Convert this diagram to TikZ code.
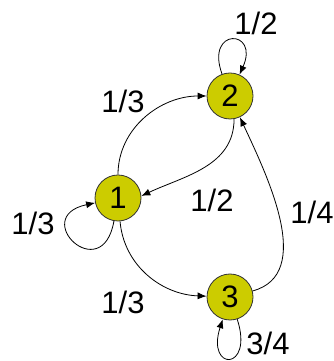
\documentclass[tikz,border=0pt]{standalone}
\usepackage{fontspec}
\setmainfont{Liberation Sans}
\usetikzlibrary{arrows.meta}
\definecolor{nodefill}{RGB}{204,204,0}
\tikzset{
  state/.style={circle,draw=black!80,line width=0.8pt,fill=nodefill,minimum size=46pt,inner sep=0pt,font=\fontsize{31}{31}\selectfont},
  edge/.style={draw=black,line width=0.8pt,-{Latex[length=9pt,width=7pt]}},
  lbl/.style={font=\fontsize{31}{31}\selectfont,inner sep=0pt}
}
\begin{document}
\begin{tikzpicture}[x=1pt,y=1pt]
\useasboundingbox (0,0) rectangle (333,361);
\node[state] (n1) at (118,163) {1};
\node[state] (n2) at (230,265) {2};
\node[state] (n3) at (230,64) {3};
% edges
\draw[edge] (n1) to[out=90,in=180] (n2);
\draw[edge] (n2.-80) to[out=-90,in=25] (n1.5);
\draw[edge] (n1) to[out=-85,in=178] (n3);
\draw[edge] (n3) to[out=15,in=-65,looseness=0.95] (n2);
\draw[edge] (n2) to[out=110,in=66,distance=50pt] (n2);
\draw[edge] (n1) to[out=-100,in=-168,distance=68pt] (n1);
\draw[edge] (n3) to[out=-72,in=-108,distance=55pt] (n3);
% labels
\node[lbl] (l1) at (256,338) {1/2};
\node[lbl] (l2) at (123,260) {1/3};
\node[lbl] (l3) at (212,161) {1/2};
\node[lbl] (l4) at (312,149) {1/4};
\node[lbl] (l5) at (33,138) {1/3};
\node[lbl] (l6) at (123,59) {1/3};
\node[lbl] (l7) at (268,18) {3/4};
\end{tikzpicture}
\end{document}
